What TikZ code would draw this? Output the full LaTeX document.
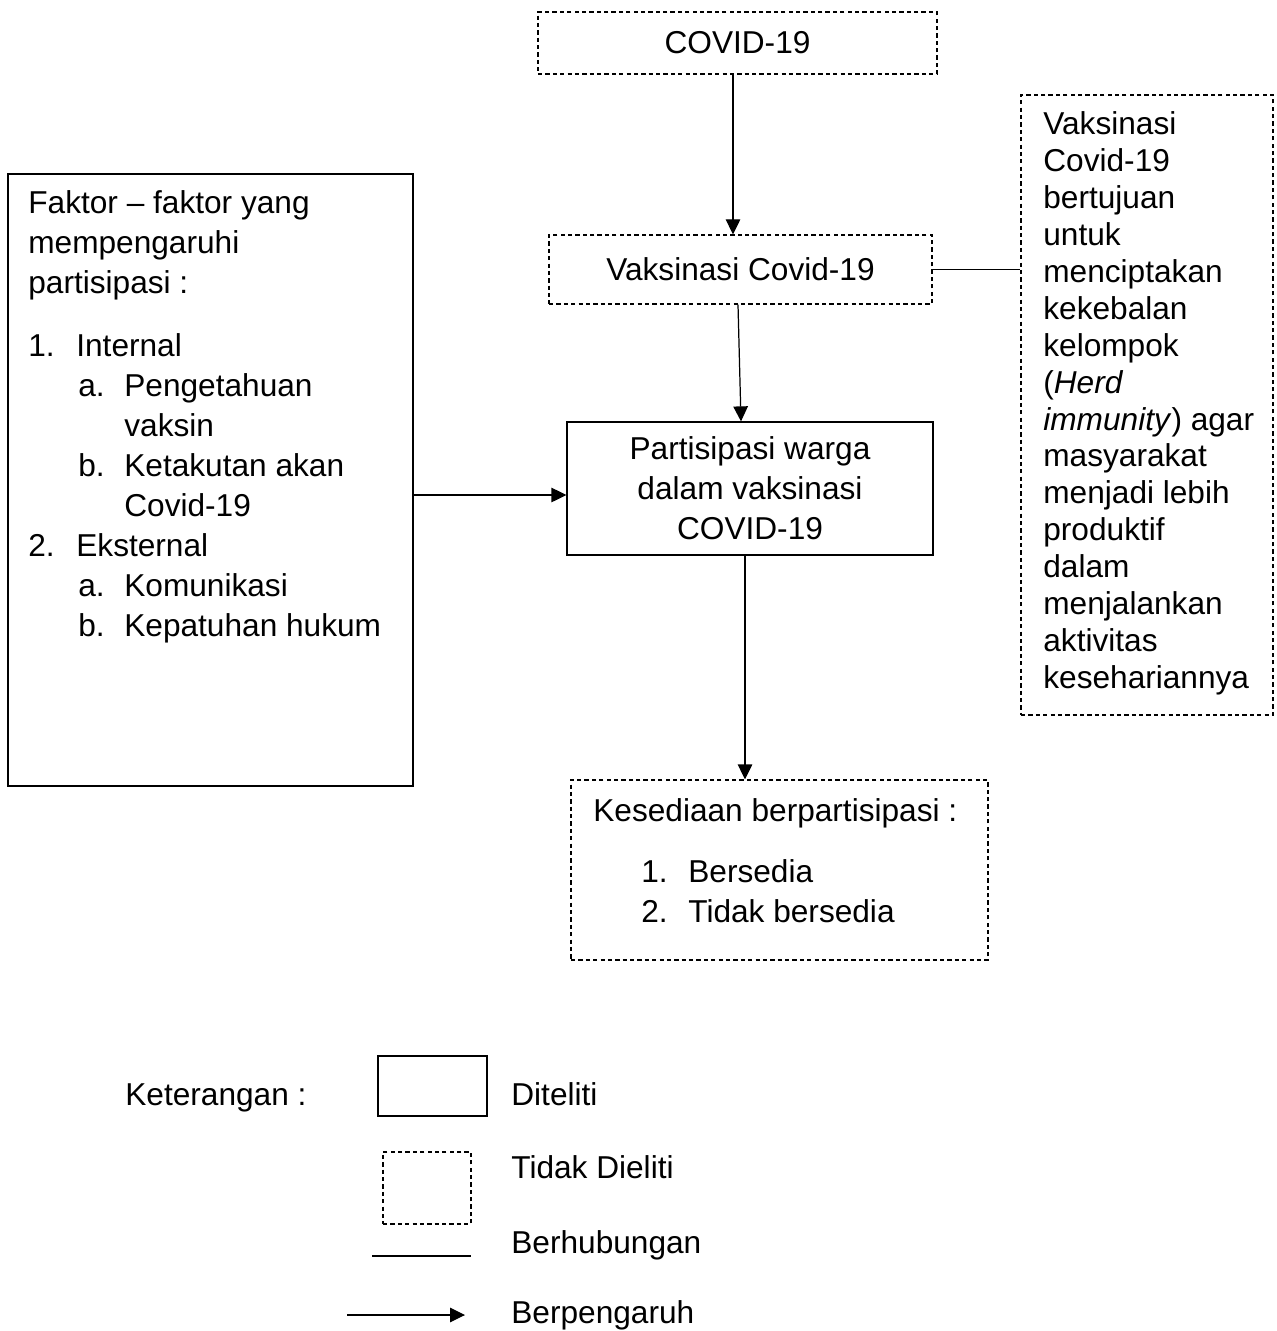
\documentclass[tikz,border=0pt]{standalone}
\usepackage{fontspec}
\setmainfont{Liberation Sans}
\usepackage{tikz}
\usetikzlibrary{arrows.meta,positioning}

\begin{document}
\begin{tikzpicture}[
  every node/.style={font=\fontsize{18}{22.8}\selectfont},
  garis/.style={line width=0.7pt},
  kotak/.style={draw,garis,rectangle,inner sep=0pt},
  kotakputus/.style={kotak,dash pattern=on 2.4pt off 1.8pt},
  teks/.style={inner sep=0pt,align=left,anchor=north west},
  panah/.style={garis,-{Triangle[length=3mm,width=2.9mm]}}]
\useasboundingbox (0,0) rectangle (25.52,-26.62);

\node(covid)[kotakputus,minimum width=7.98cm,minimum height=1.24cm] at (14.75,-0.86) {COVID-19};

\node(vak)[kotakputus,minimum width=7.66cm,minimum height=1.38cm] at (14.81,-5.39) {Vaksinasi Covid-19};

\node(part)[kotak,minimum width=7.32cm,minimum height=2.66cm,align=center] at (15.0,-9.77) {Partisipasi warga\\dalam vaksinasi\\COVID-19};

\node(tujuan)[kotakputus,minimum width=5.04cm,minimum height=12.4cm] at (22.94,-8.10) {};

\node(tujuantxt)[teks,font=\fontsize{18}{21}\selectfont] at (20.86,-2.23) {Vaksinasi\\Covid-19\\bertujuan\\untuk\\menciptakan\\kekebalan\\kelompok\\(\textit{Herd}\\\textit{immunity}) agar\\masyarakat\\menjadi lebih\\produktif\\dalam\\menjalankan\\aktivitas\\kesehariannya};

\node(faktor)[kotak,minimum width=8.1cm,minimum height=12.24cm] at (4.21,-9.6) {};

\node(faktortxt)[teks] at (0.56,-3.81) {Faktor -- faktor yang\\mempengaruhi\\partisipasi :\\[0.45cm]
\makebox[0.96cm][l]{1.}Internal\\
\hspace*{1cm}\makebox[0.92cm][l]{a.}Pengetahuan\\
\hspace*{1.92cm}vaksin\\
\hspace*{1cm}\makebox[0.92cm][l]{b.}Ketakutan akan\\
\hspace*{1.92cm}Covid-19\\
\makebox[0.96cm][l]{2.}Eksternal\\
\hspace*{1cm}\makebox[0.92cm][l]{a.}Komunikasi\\
\hspace*{1cm}\makebox[0.92cm][l]{b.}Kepatuhan hukum};

\node(kes)[kotakputus,minimum width=8.34cm,minimum height=3.6cm] at (15.59,-17.4) {};

\node(kestxt)[teks] at (11.86,-15.97) {Kesediaan berpartisipasi :\\[0.42cm]
\hspace*{0.96cm}\makebox[0.94cm][l]{1.}Bersedia\\
\hspace*{0.96cm}\makebox[0.94cm][l]{2.}Tidak bersedia};

\node(ket)[inner sep=0pt,anchor=base west] at (2.5,-22.11) {Keterangan :};

\node(ditel)[kotak,minimum width=2.18cm,minimum height=1.2cm] at (8.65,-21.72) {};

\node(ditelket)[inner sep=0pt,anchor=base west] at (10.22,-22.11) {Diteliti};

\node(tdk)[kotakputus,minimum width=1.76cm,minimum height=1.44cm] at (8.54,-23.76) {};

\node(tdkket)[inner sep=0pt,anchor=base west] at (10.22,-23.57) {Tidak Dieliti};

\coordinate(hub1) at (7.44,-25.12);
\coordinate(hub2) at (9.42,-25.12);
\node(hubket)[inner sep=0pt,anchor=base west] at (10.22,-25.07) {Berhubungan};

\coordinate(pgr1) at (6.94,-26.3);
\coordinate(pgr2) at (9.30,-26.3);
\node(pgrket)[inner sep=0pt,anchor=base west] at (10.22,-26.47) {Berpengaruh};

\coordinate(partkiri) at ([yshift=-0.13cm]part.west);

\draw [panah] ([xshift=-0.09cm]covid.south) -- ([xshift=-0.09cm]covid.south |- vak.north);
\draw [panah] ([xshift=-0.05cm]vak.south) -- ([xshift=-0.18cm]part.north);
\draw [panah] ([xshift=-0.1cm]part.south) -- ([xshift=-0.1cm]part.south |- kes.north);
\draw [panah] (faktor.east |- partkiri) -- (partkiri);
\draw [garis] (vak.east) -- (vak.east -| tujuan.west);
\draw [garis] (hub1) -- (hub2);
\draw [panah] (pgr1) -- (pgr2);

\end{tikzpicture}
\end{document}
